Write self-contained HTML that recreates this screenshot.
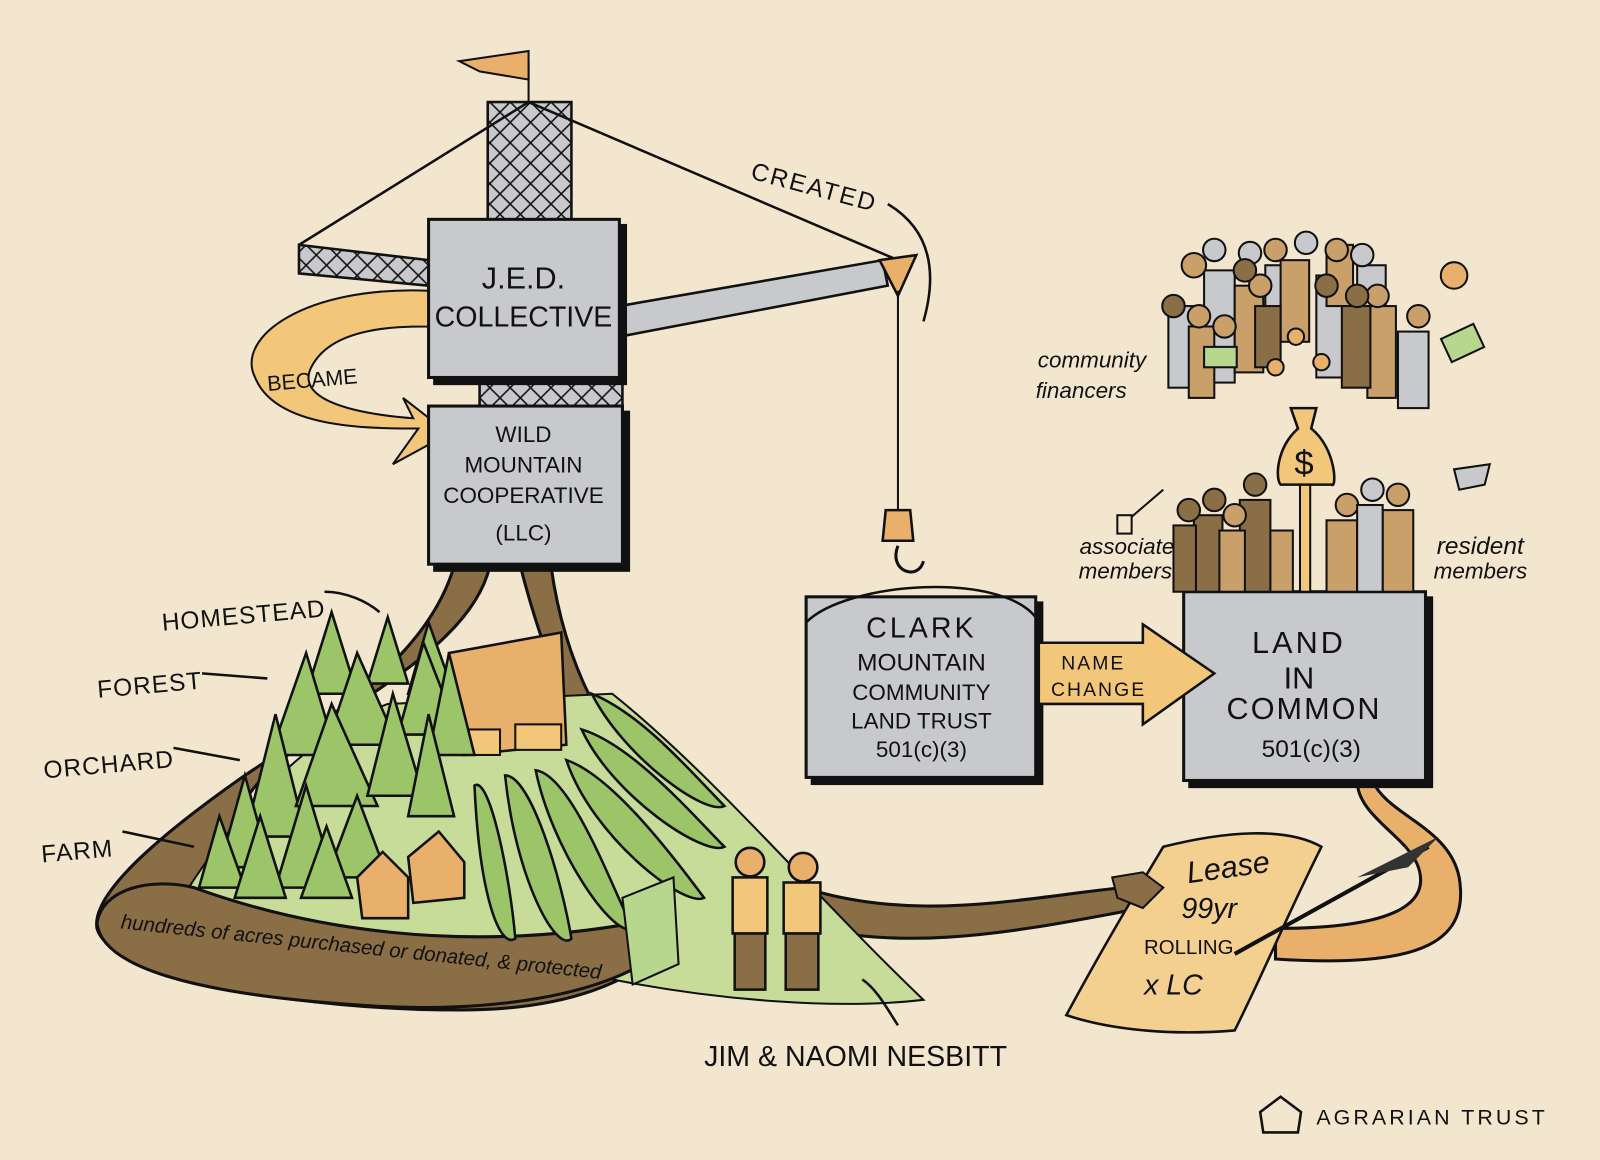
<!DOCTYPE html>
<html><head><meta charset="utf-8"><style>
html,body{margin:0;padding:0;background:#f3e6cf;}
svg{display:block;}
text{font-family:"Liberation Sans",sans-serif;fill:#111;}
</style></head><body>
<svg width="1600" height="1160" viewBox="0 0 1568 1137" preserveAspectRatio="none" xmlns="http://www.w3.org/2000/svg">
<rect width="1568" height="1137" fill="#f3e6cf"/>
<defs>
<pattern id="lat" width="20" height="20" patternUnits="userSpaceOnUse"><rect width="20" height="20" fill="#c8c9cc"/><path d="M0 0L20 20M20 0L0 20" stroke="#111" stroke-width="1.5"/></pattern>
</defs>
<!-- brown band -->
<path d="M445 555 C420 640 330 700 240 760 C140 830 90 880 95 910 C110 960 300 990 450 990 C560 990 620 960 650 930 L640 900 C560 930 400 930 300 900 C220 880 200 820 260 760 C330 690 460 640 480 555 Z" fill="#8a6e45" stroke="#111" stroke-width="3"/>
<path d="M540 555 C560 700 640 800 760 860 C880 910 1000 880 1100 870 L1120 890 C1010 910 880 940 760 900 C640 850 560 750 510 555 Z" fill="#8a6e45" stroke="#111" stroke-width="3"/>
<path d="M1345 765 C1360 800 1420 810 1430 860 C1440 920 1400 950 1250 940 L1250 910 C1380 910 1400 880 1390 850 C1380 820 1330 800 1330 765 Z" fill="#e8b06a" stroke="#111" stroke-width="3"/>
<!-- hill -->
<path d="M185 870 C230 800 300 720 380 690 L600 680 C700 760 800 880 905 980 C820 990 700 980 600 960 C500 960 300 930 185 870 Z" fill="#c8dc9a" stroke="#111" stroke-width="2"/>
<!-- front arm -->
<path d="M95 905 C100 870 150 860 190 870 C300 910 450 935 620 905 L650 930 C600 975 480 995 350 985 C200 975 100 950 95 905Z" fill="#8a6e45" stroke="#111" stroke-width="3"/>
<!-- barn -->
<path d="M440 640 L550 620 L555 730 L455 740Z" fill="#e8b06a" stroke="#111" stroke-width="2.5"/>
<rect x="445" y="715" width="45" height="25" fill="#f3c77a" stroke="#111" stroke-width="2"/>
<rect x="505" y="710" width="45" height="25" fill="#f3c77a" stroke="#111" stroke-width="2"/>
<!-- trees -->
<g fill="#9cc468" stroke="#111" stroke-width="2.5">
<path d="M325 600 L350 680 L300 680Z"/><path d="M380 605 L400 670 L360 670Z"/><path d="M420 610 L445 680 L400 680Z"/>
<path d="M300 640 L330 740 L265 740Z"/><path d="M350 640 L390 730 L320 730Z"/><path d="M415 630 L450 720 L390 720Z"/>
<path d="M270 700 L300 820 L240 820Z"/><path d="M325 690 L370 790 L290 790Z"/><path d="M385 680 L415 780 L360 780Z"/>
<path d="M440 640 L465 740 L420 740Z"/><path d="M420 700 L445 800 L400 800Z"/>
<path d="M240 760 L265 850 L215 850Z"/><path d="M300 770 L330 870 L270 870Z"/><path d="M350 780 L380 860 L320 860Z"/>
<path d="M215 800 L240 870 L195 870Z"/><path d="M255 800 L280 880 L230 880Z"/><path d="M320 810 L345 880 L295 880Z"/>
</g>
<!-- rows -->
<g fill="#9cc468" stroke="#111" stroke-width="2.5">
<path d="M465 770 C480 760 500 860 505 920 C490 930 470 880 465 770Z"/>
<path d="M495 760 C520 760 550 860 560 920 C545 935 505 860 495 760Z"/>
<path d="M525 755 C560 760 600 870 620 910 C600 920 540 830 525 755Z"/>
<path d="M555 745 C600 760 660 840 690 880 C670 890 580 820 555 745Z"/>
<path d="M570 715 C620 730 680 800 710 830 C690 840 600 780 570 715Z"/>
<path d="M580 680 C630 700 680 760 710 790 C690 800 610 740 580 680Z"/>
</g>
<!-- huts -->
<path d="M350 860 L375 835 L400 860 L400 900 L355 900Z" fill="#e8b06a" stroke="#111" stroke-width="2.5"/>
<path d="M400 840 L430 815 L455 845 L455 880 L405 885Z" fill="#e8b06a" stroke="#111" stroke-width="2.5"/>
<!-- hand/money -->
<path d="M610 880 L660 860 L665 945 L620 965Z" fill="#b7d68e" stroke="#111" stroke-width="2"/>
<!-- people -->
<g stroke="#111" stroke-width="2.5">
<circle cx="735" cy="845" r="14" fill="#e8b06a"/><rect x="718" y="860" width="34" height="55" fill="#f3c77a"/><rect x="720" y="915" width="30" height="55" fill="#8a6e45"/>
<circle cx="787" cy="850" r="14" fill="#e8b06a"/><rect x="768" y="865" width="36" height="50" fill="#f3c77a"/><rect x="770" y="915" width="32" height="55" fill="#8a6e45"/>
</g>
<path d="M880 1005 C870 990 860 970 845 960" fill="none" stroke="#111" stroke-width="2.5"/>
<!-- crane -->
<rect x="478" y="100" width="82" height="115" fill="url(#lat)" stroke="#111" stroke-width="2.5"/>
<rect x="470" y="370" width="140" height="28" fill="url(#lat)" stroke="#111" stroke-width="2.5"/>
<path d="M293 240 L420 255 L420 280 L293 268Z" fill="url(#lat)" stroke="#111" stroke-width="2.5"/>
<path d="M607 300 L865 255 L870 280 L607 330Z" fill="#c8c9cc" stroke="#111" stroke-width="2.5"/>
<path d="M293 240 L518 100 L880 255" fill="none" stroke="#111" stroke-width="2.5"/>
<line x1="518" y1="100" x2="518" y2="60" stroke="#111" stroke-width="2"/>
<path d="M518 50 L450 60 L470 70 L518 78Z" fill="#e8b06a" stroke="#111" stroke-width="2"/>
<path d="M862 255 L898 250 L880 290Z" fill="#e8b06a" stroke="#111" stroke-width="2.5"/>
<line x1="880" y1="285" x2="880" y2="500" stroke="#111" stroke-width="2"/>
<path d="M868 500 L892 500 L895 530 L865 530Z" fill="#e8b06a" stroke="#111" stroke-width="2.5"/>
<path d="M880 535 C870 560 900 570 905 550" fill="none" stroke="#111" stroke-width="3"/>
<path d="M870 200 C920 230 915 280 905 315" fill="none" stroke="#111" stroke-width="2.5"/>
<text x="730" y="190" font-size="24" letter-spacing="2" transform="rotate(15 790 200)">CREATED</text>
<!-- became arrow -->
<path d="M420 285 C300 280 230 330 250 370 C270 420 360 420 410 420 L385 455 L440 425 L395 390 L405 410 C340 405 290 390 305 360 C325 320 390 320 420 320Z" fill="#f3c77a" stroke="#111" stroke-width="2"/>
<text x="262" y="380" font-size="21" transform="rotate(-5 300 375)">BECAME</text>
<!-- boxes -->
<g stroke="#111" stroke-width="3">
<rect x="426" y="221" width="187" height="155" fill="#111"/><rect x="420" y="215" width="187" height="155" fill="#c8c9cc"/>
<rect x="426" y="404" width="190" height="155" fill="#111"/><rect x="420" y="398" width="190" height="155" fill="#c8c9cc"/>
<rect x="796" y="591" width="225" height="177" fill="#111"/><rect x="790" y="585" width="225" height="177" fill="#c8c9cc"/>
<rect x="1166" y="586" width="237" height="185" fill="#111"/><rect x="1160" y="580" width="237" height="185" fill="#c8c9cc"/>
</g>
<path d="M790 610 C830 570 980 560 1015 605" fill="none" stroke="#111" stroke-width="2.5"/>
<g text-anchor="middle">
<text x="513" y="283" font-size="30">J.E.D.</text><text x="513" y="320" font-size="28">COLLECTIVE</text>
<text x="513" y="433" font-size="22">WILD</text><text x="513" y="463" font-size="22">MOUNTAIN</text><text x="513" y="493" font-size="22">COOPERATIVE</text><text x="513" y="530" font-size="22">(LLC)</text>
<text x="903" y="625" font-size="28" letter-spacing="3">CLARK</text><text x="903" y="657" font-size="24">MOUNTAIN</text><text x="903" y="686" font-size="22">COMMUNITY</text><text x="903" y="714" font-size="22">LAND TRUST</text><text x="903" y="742" font-size="22">501(c)(3)</text>
<text x="1273" y="640" font-size="30" letter-spacing="3">LAND</text><text x="1273" y="675" font-size="30">IN</text><text x="1278" y="705" font-size="30" letter-spacing="2">COMMON</text><text x="1285" y="742" font-size="24">501(c)(3)</text>
</g>
<!-- name change arrow -->
<path d="M1018 630 L1120 630 L1120 612 L1190 660 L1120 710 L1120 690 L1018 690Z" fill="#f3c77a" stroke="#111" stroke-width="2.5"/>
<text x="1040" y="656" font-size="19" letter-spacing="2">NAME</text><text x="1030" y="682" font-size="19" letter-spacing="2">CHANGE</text>
<!-- money bag & pole -->
<rect x="1274" y="470" width="10" height="110" fill="#f3c77a" stroke="#111" stroke-width="2"/>
<path d="M1265 400 L1290 400 L1285 420 C1310 440 1310 480 1305 475 L1255 475 C1250 470 1250 440 1272 420Z" fill="#f3c77a" stroke="#111" stroke-width="2.5"/>
<text x="1278" y="465" font-size="34" text-anchor="middle">$</text>
<!-- crowds -->
<g stroke="#111" stroke-width="2">
<g fill="#c8c9cc"><rect x="1145" y="300" width="30" height="80"/><rect x="1180" y="265" width="30" height="110"/><rect x="1290" y="270" width="30" height="100"/><rect x="1370" y="325" width="30" height="75"/><rect x="1330" y="260" width="28" height="70"/><rect x="1240" y="260" width="26" height="60"/></g>
<g fill="#c9a06a"><rect x="1210" y="280" width="28" height="85"/><rect x="1255" y="255" width="28" height="80"/><rect x="1340" y="300" width="28" height="90"/><rect x="1165" y="320" width="25" height="70"/><rect x="1300" y="240" width="26" height="60"/></g>
<g fill="#8a6e45"><rect x="1230" y="300" width="25" height="60"/><rect x="1315" y="300" width="28" height="80"/></g>
<g fill="#c9a06a"><circle cx="1170" cy="260" r="12"/><circle cx="1250" cy="245" r="11"/><circle cx="1310" cy="245" r="11"/><circle cx="1200" cy="320" r="11"/><circle cx="1350" cy="290" r="11"/><circle cx="1390" cy="310" r="11"/><circle cx="1175" cy="310" r="11"/><circle cx="1235" cy="280" r="11"/></g>
<g fill="#c8c9cc"><circle cx="1190" cy="245" r="11"/><circle cx="1280" cy="238" r="11"/><circle cx="1335" cy="250" r="11"/><circle cx="1225" cy="248" r="11"/></g>
<g fill="#8a6e45"><circle cx="1150" cy="300" r="11"/><circle cx="1300" cy="280" r="11"/><circle cx="1220" cy="265" r="11"/><circle cx="1330" cy="290" r="11"/></g>
<g fill="#e8b06a"><circle cx="1425" cy="270" r="13"/><circle cx="1270" cy="330" r="8"/><circle cx="1295" cy="355" r="8"/><circle cx="1250" cy="360" r="8"/></g>
<rect x="1415" y="325" width="35" height="25" fill="#b7d68e" transform="rotate(-25 1430 335)"/>
<rect x="1180" y="340" width="32" height="20" fill="#b7d68e"/>
<g fill="#8a6e45"><circle cx="1190" cy="490" r="11"/><circle cx="1230" cy="475" r="11"/><rect x="1170" y="505" width="28" height="75"/><rect x="1215" y="490" width="30" height="90"/><circle cx="1165" cy="500" r="11"/><rect x="1150" y="515" width="22" height="65"/></g>
<g fill="#c9a06a"><circle cx="1210" cy="505" r="11"/><rect x="1195" y="520" width="25" height="60"/><circle cx="1320" cy="495" r="11"/><circle cx="1370" cy="485" r="11"/><rect x="1300" y="510" width="30" height="70"/><rect x="1355" y="500" width="30" height="80"/><rect x="1245" y="520" width="22" height="60"/></g>
<g fill="#c8c9cc"><circle cx="1345" cy="480" r="11"/><rect x="1330" y="495" width="25" height="85"/><path d="M1425 460 L1460 455 L1455 475 L1430 480Z"/></g>
<line x1="1140" y1="480" x2="1105" y2="510"/><rect x="1095" y="505" width="14" height="18" fill="#f3e6cf"/>
</g>
<g font-family="Liberation Serif" font-style="italic">
<text x="1017" y="360" font-size="22">community</text><text x="1015" y="390" font-size="22">financers</text>
<text x="1058" y="543" font-size="22">associate</text><text x="1057" y="567" font-size="22">members</text>
<text x="1408" y="543" font-size="24">resident</text><text x="1405" y="567" font-size="22">members</text>
</g>
<!-- scroll -->
<path d="M1140 830 C1200 815 1260 810 1295 830 C1260 900 1240 950 1210 1010 C1150 1015 1090 1010 1045 995 C1080 930 1110 880 1140 830Z" fill="#f3d090" stroke="#111" stroke-width="2.5"/>
<g font-family="Liberation Serif" font-style="italic" text-anchor="middle">
<text x="1205" y="860" font-size="30" transform="rotate(-8 1205 860)">Lease</text>
<text x="1185" y="900" font-size="28">99yr</text>
<text x="1165" y="935" font-size="20" font-style="normal">ROLLING</text>
<text x="1150" y="975" font-size="28">x LC</text>
</g>
<path d="M1210 935 L1400 830" stroke="#111" stroke-width="4"/>
<path d="M1330 860 L1410 820 L1380 850Z" fill="#333"/>
<path d="M1090 860 L1120 855 L1140 870 L1120 890 L1095 880Z" fill="#8a6e45" stroke="#111" stroke-width="2"/>
<!-- labels -->
<g font-size="24" letter-spacing="1">
<text x="158" y="612" transform="rotate(-5 230 600)">HOMESTEAD</text>
<text x="95" y="680" transform="rotate(-5 140 670)">FOREST</text>
<text x="42" y="758" transform="rotate(-5 100 745)">ORCHARD</text>
<text x="40" y="842" transform="rotate(-5 80 830)">FARM</text>
</g>
<g fill="none" stroke="#111" stroke-width="2.5">
<path d="M318 580 C340 580 360 590 372 600"/><path d="M198 660 L262 665"/><path d="M170 733 L235 745"/><path d="M120 815 L190 830"/>
</g>
<text x="118" y="910" font-size="20" font-family="Liberation Serif" font-style="italic" transform="rotate(6 118 910)">hundreds of acres purchased or donated, &amp; protected</text>
<text x="690" y="1045" font-size="28">JIM &amp; NAOMI NESBITT</text>
<path d="M1235 1090 L1255 1075 L1275 1090 L1272 1110 L1238 1110Z" fill="none" stroke="#111" stroke-width="2.5"/>
<text x="1290" y="1102" font-size="21" letter-spacing="3">AGRARIAN TRUST</text>
</svg>
</body></html>
